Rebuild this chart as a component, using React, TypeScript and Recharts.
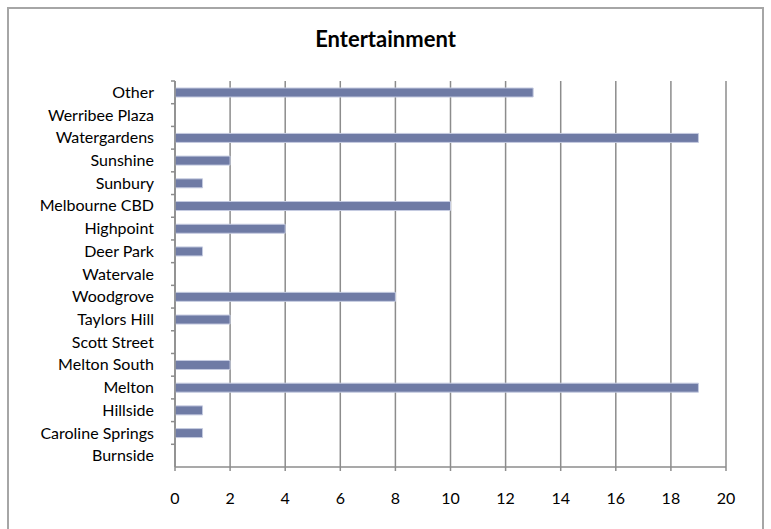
import React from 'react';
import { BarChart, Bar, XAxis, YAxis, CartesianGrid } from 'recharts';

const locations = [
  'Other',
  'Werribee Plaza',
  'Watergardens',
  'Sunshine',
  'Sunbury',
  'Melbourne CBD',
  'Highpoint',
  'Deer Park',
  'Watervale',
  'Woodgrove',
  'Taylors Hill',
  'Scott Street',
  'Melton South',
  'Melton',
  'Hillside',
  'Caroline Springs',
  'Burnside',
];

const counts = [13, 0, 19, 2, 1, 10, 4, 1, 0, 8, 2, 0, 2, 19, 1, 1, 0];

const xTicks = [0, 2, 4, 6, 8, 10, 12, 14, 16, 18, 20];

const data = locations.map((name, i) => ({ name, value: counts[i] }));

const W = 771;
const H = 529;
const MARGIN = { top: 81, right: 45, bottom: 32, left: 0 };
const X_AXIS_H = 30;
const Y_AXIS_W = 175;
const PLOT_H = H - MARGIN.top - MARGIN.bottom - X_AXIS_H;
const BAND = PLOT_H / locations.length;
const GRID = '#8c8c8c';
const FONT = 'Lato, "Open Sans", sans-serif';

// labels sit in the band, tick marks on the band edges
const CategoryTick = (props: any) => {
  const { x, y, payload } = props;
  const axisX = x + 21;
  return (
    <g>
      <line x1={axisX - 4} x2={axisX} y1={y - BAND / 2} y2={y - BAND / 2} stroke={GRID} strokeWidth={1.5} />
      <text x={x} y={y} dy="0.35em" textAnchor="end" fill="#000" fontSize={16} fontFamily={FONT}>
        {payload.value}
      </text>
    </g>
  );
};

export default function App() {
  return (
    <div style={{ position: 'absolute', left: 0, top: 0, width: W, height: H, background: '#fff', overflow: 'hidden' }}>
      <div
        style={{
          position: 'absolute',
          left: 7,
          top: 7,
          width: 753,
          height: 540,
          border: '2px solid #a6a6a6',
        }}
      />
      <div
        style={{
          position: 'absolute',
          left: 0,
          width: W,
          top: 25,
          textAlign: 'center',
          fontFamily: FONT,
          fontWeight: 'bold',
          fontSize: 22,
          color: '#000',
        }}
      >
        Entertainment
      </div>
      <div style={{ position: 'absolute', left: 0, top: 0 }}>
        <BarChart width={W} height={H} data={data} layout="vertical" margin={MARGIN} barSize={9}>
          <CartesianGrid horizontal={false} stroke={GRID} strokeWidth={1.5} strokeDasharray="" />
          <XAxis
            type="number"
            domain={[0, 20]}
            ticks={xTicks}
            interval={0}
            height={X_AXIS_H}
            stroke={GRID}
            strokeWidth={1.5}
            tickSize={4}
            tickMargin={22}
            tick={{ fill: '#000', fontSize: 16, fontFamily: FONT }}
          />
          <YAxis
            type="category"
            dataKey="name"
            width={Y_AXIS_W}
            interval={0}
            stroke={GRID}
            strokeWidth={1.5}
            tickLine={false}
            tickSize={0}
            tickMargin={21}
            tick={<CategoryTick />}
          />
          <Bar dataKey="value" fill="#6f7ba5" stroke="#c5cbe0" strokeWidth={1} isAnimationActive={false} />
        </BarChart>
      </div>
    </div>
  );
}
